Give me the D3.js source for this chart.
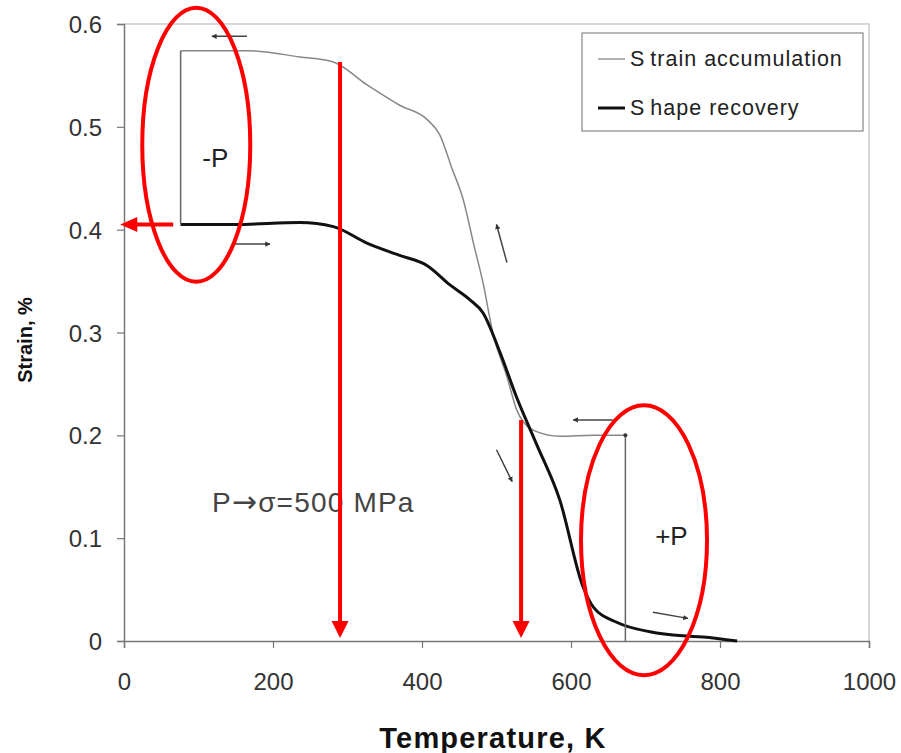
<!DOCTYPE html>
<html>
<head>
<meta charset="utf-8">
<script src="https://cdn.jsdelivr.net/npm/d3@7"></script>
<style>
  body { margin: 0; background: #fff; }
  svg { display: block; font-family: "Liberation Sans", Arial, sans-serif; }
</style>
</head>
<body>
<div id="content"></div>
<script>
// Data.
var xTicks = [0, 200, 400, 600, 800, 1000];
var yTicks = [0, 0.1, 0.2, 0.3, 0.4, 0.5, 0.6];
var yTickLabels = ['0', '0.1', '0.2', '0.3', '0.4', '0.5', '0.6'];

// Strain accumulation (thin grey)
var accumTemp   = [76, 165, 236, 281, 326, 370, 407, 424, 440, 455, 470, 482, 495, 514, 527, 549, 585, 630, 673];
var accumStrain = [0.574, 0.574, 0.568, 0.563, 0.541, 0.521, 0.507, 0.492, 0.46, 0.43, 0.384, 0.348, 0.300, 0.257, 0.225, 0.205, 0.199, 0.200, 0.200];

// Shape recovery (thick black)
var recovTemp   = [76, 150, 236, 281, 326, 370, 407, 438, 464, 482, 505, 527, 554, 585, 616, 630, 662, 706, 750, 777, 823];
var recovStrain = [0.405, 0.405, 0.407, 0.403, 0.387, 0.375, 0.365, 0.346, 0.332, 0.319, 0.280, 0.237, 0.191, 0.137, 0.053, 0.033, 0.018, 0.009, 0.005, 0.004, 0.0];

// Load steps joining the two curves (vertical jumps)
var stepTemp  = [76, 673];
var stepFrom  = [0.405, 0.200];
var stepTo    = [0.574, 0.0];

// Small direction arrows: tail -> head
var dirTailT = [165, 146, 514, 656, 500, 710];
var dirTailS = [0.588, 0.386, 0.368, 0.215, 0.186, 0.028];
var dirHeadT = [118, 196, 500, 603, 521, 757];
var dirHeadS = [0.588, 0.386, 0.405, 0.215, 0.155, 0.022];

// Red markings
var redDropT   = [290, 533];
var redDropTop = [0.563, 0.215];

var seriesNames = ['Strain accumulation', 'Shape recovery'];

// Main SVG container.
var margin = {left: 124, right: 32, top: 24, bottom: 112};
var width = 901 - margin.left - margin.right;
var height = 753 - margin.top - margin.bottom;
var svg = d3.select('#content')
    .append('svg')
    .attr('width', 901)
    .attr('height', 753);

var defs = svg.append('defs');
defs.append('marker')
    .attr('id', 'small-head')
    .attr('viewBox', '0 0 10 10')
    .attr('refX', 9).attr('refY', 5)
    .attr('markerWidth', 3.5).attr('markerHeight', 3.5)
    .attr('orient', 'auto')
  .append('path')
    .attr('d', 'M0,0L10,5L0,10z')
    .attr('fill', '#333');

var g = svg.append('g')
    .attr('transform', 'translate(' + margin.left + ',' + margin.top + ')');

var x = d3.scaleLinear().domain([0, 1000]).range([0, width]);
var y = d3.scaleLinear().domain([0, 0.6]).range([height, 0]);

// Plot frame (top and right, light).
g.append('path')
    .attr('d', 'M0,0H' + width + 'V' + height)
    .attr('fill', 'none')
    .attr('stroke', '#ccc')
    .attr('stroke-width', 1.5);

// Axes.
var xAxis = g.append('g')
    .attr('transform', 'translate(0,' + height + ')')
    .call(d3.axisBottom(x).tickValues(xTicks).tickSize(7).tickFormat(d3.format('d')));
var yAxis = g.append('g')
    .call(d3.axisLeft(y).tickValues(yTicks).tickSize(7)
      .tickFormat(function(d, i) { return yTickLabels[i]; }));

[xAxis, yAxis].forEach(function(a) {
  a.select('.domain').attr('stroke', '#777').attr('stroke-width', 1.5);
  a.selectAll('.tick line').attr('stroke', '#777').attr('stroke-width', 1.2);
  a.selectAll('.tick text')
      .attr('fill', '#333')
      .attr('font-size', 24)
      .attr('font-family', '"Liberation Sans", Arial, sans-serif');
});
xAxis.selectAll('.tick text').attr('y', 49).attr('dy', 0);
yAxis.selectAll('.tick text').attr('x', -22).attr('dy', '0.36em');

// Axis titles.
svg.append('text')
    .attr('x', 493)
    .attr('y', 748)
    .attr('text-anchor', 'middle')
    .attr('font-weight', 'bold')
    .attr('font-size', 29)
    .attr('letter-spacing', 1.2)
    .attr('fill', '#111')
    .text('Temperature, K');

svg.append('text')
    .attr('transform', 'translate(32,340) rotate(-90)')
    .attr('text-anchor', 'middle')
    .attr('font-weight', 'bold')
    .attr('font-size', 20)
    .attr('fill', '#111')
    .text('Strain, %');

// Curves.
var line = d3.line()
    .x(function(d) { return x(d[0]); })
    .y(function(d) { return y(d[1]); })
    .curve(d3.curveMonotoneX);

g.append('path')
    .datum(d3.zip(accumTemp, accumStrain))
    .attr('d', line)
    .attr('fill', 'none')
    .attr('stroke', '#888')
    .attr('stroke-width', 1.5);

g.append('path')
    .datum(d3.zip(recovTemp, recovStrain))
    .attr('d', line)
    .attr('fill', 'none')
    .attr('stroke', '#111')
    .attr('stroke-width', 3);

// Vertical load steps.
g.selectAll('.step')
    .data(d3.range(stepTemp.length))
    .enter()
    .append('line')
    .attr('class', 'step')
    .attr('x1', function(i) { return x(stepTemp[i]); })
    .attr('x2', function(i) { return x(stepTemp[i]); })
    .attr('y1', function(i) { return y(stepFrom[i]); })
    .attr('y2', function(i) { return y(stepTo[i]); })
    .attr('stroke', '#666')
    .attr('stroke-width', 1.5);

g.append('circle')
    .attr('cx', x(673)).attr('cy', y(0.2)).attr('r', 2)
    .attr('fill', '#333');

// Direction arrows.
g.selectAll('.dir')
    .data(d3.range(dirTailT.length))
    .enter()
    .append('line')
    .attr('class', 'dir')
    .attr('x1', function(i) { return x(dirTailT[i]); })
    .attr('y1', function(i) { return y(dirTailS[i]); })
    .attr('x2', function(i) { return x(dirHeadT[i]); })
    .attr('y2', function(i) { return y(dirHeadS[i]); })
    .attr('stroke', '#444')
    .attr('stroke-width', 1.5)
    .attr('marker-end', 'url(#small-head)');

// Annotation texts.
g.append('text')
    .attr('x', x(105)).attr('y', y(0.461))
    .attr('font-size', 26).attr('fill', '#222')
    .text('-P');
g.append('text')
    .attr('x', x(713)).attr('y', y(0.093))
    .attr('font-size', 26).attr('fill', '#222')
    .text('+P');
var pText = g.append('text')
    .attr('x', x(118)).attr('y', y(0.125))
    .attr('font-size', 28).attr('letter-spacing', 1.2).attr('fill', '#444');
pText.append('tspan').text('P');
pText.append('tspan').attr('font-family', '"DejaVu Sans", sans-serif').attr('font-size', 30).text('\u2192');
pText.append('tspan').text('\u03c3=500 MPa');

// Red markings.
var red = '#f00';
function redArrowHead(px, py, dir) {
  // dir: 'down' or 'left'; tip at (px, py)
  var s = 17;
  var d = dir === 'down'
      ? 'M' + px + ',' + py + 'L' + (px - s / 2) + ',' + (py - s) + 'L' + (px + s / 2) + ',' + (py - s) + 'Z'
      : 'M' + px + ',' + py + 'L' + (px + s) + ',' + (py - s / 2 + 1) + 'L' + (px + s) + ',' + (py + s / 2 - 1) + 'Z';
  g.append('path').attr('d', d).attr('fill', red);
}

redDropT.forEach(function(t, i) {
  g.append('line')
      .attr('x1', x(t)).attr('x2', x(t))
      .attr('y1', y(redDropTop[i])).attr('y2', y(0.003) - 14)
      .attr('stroke', red).attr('stroke-width', 4);
  redArrowHead(x(t), y(0.003), 'down');
});

g.append('line')
    .attr('x1', x(66)).attr('x2', x(-5) + 14)
    .attr('y1', y(0.405)).attr('y2', y(0.405))
    .attr('stroke', red).attr('stroke-width', 4);
redArrowHead(x(-5), y(0.405), 'left');

g.append('ellipse')
    .attr('cx', x(97)).attr('cy', y(0.4825))
    .attr('rx', 54).attr('ry', 137)
    .attr('fill', 'none').attr('stroke', red).attr('stroke-width', 4);
g.append('ellipse')
    .attr('cx', x(698)).attr('cy', y(0.098))
    .attr('rx', 63).attr('ry', 135)
    .attr('fill', 'none').attr('stroke', red).attr('stroke-width', 4);

// Legend.
var legend = svg.append('g').attr('transform', 'translate(582,33)');
legend.append('rect')
    .attr('width', 281).attr('height', 98)
    .attr('fill', '#fff')
    .attr('stroke', '#888').attr('stroke-width', 1.2);

var legendRows = legend.selectAll('.row')
    .data(seriesNames)
    .enter()
    .append('g')
    .attr('class', 'row')
    .attr('transform', function(d, i) { return 'translate(0,' + (26 + i * 49) + ')'; });

legendRows.append('line')
    .attr('x1', 16).attr('x2', 43)
    .attr('stroke', function(d, i) { return i === 0 ? '#999' : '#111'; })
    .attr('stroke-width', function(d, i) { return i === 0 ? 1.5 : 3; });

var lt = legendRows.append('text')
    .attr('x', 48).attr('y', 7)
    .attr('font-size', 21.5)
    .attr('letter-spacing', 1)
    .attr('fill', '#222');
lt.append('tspan').text(function(d) { return d[0]; });
lt.append('tspan').attr('dx', 5).text(function(d) { return d.slice(1); });
</script>
</body>
</html>
